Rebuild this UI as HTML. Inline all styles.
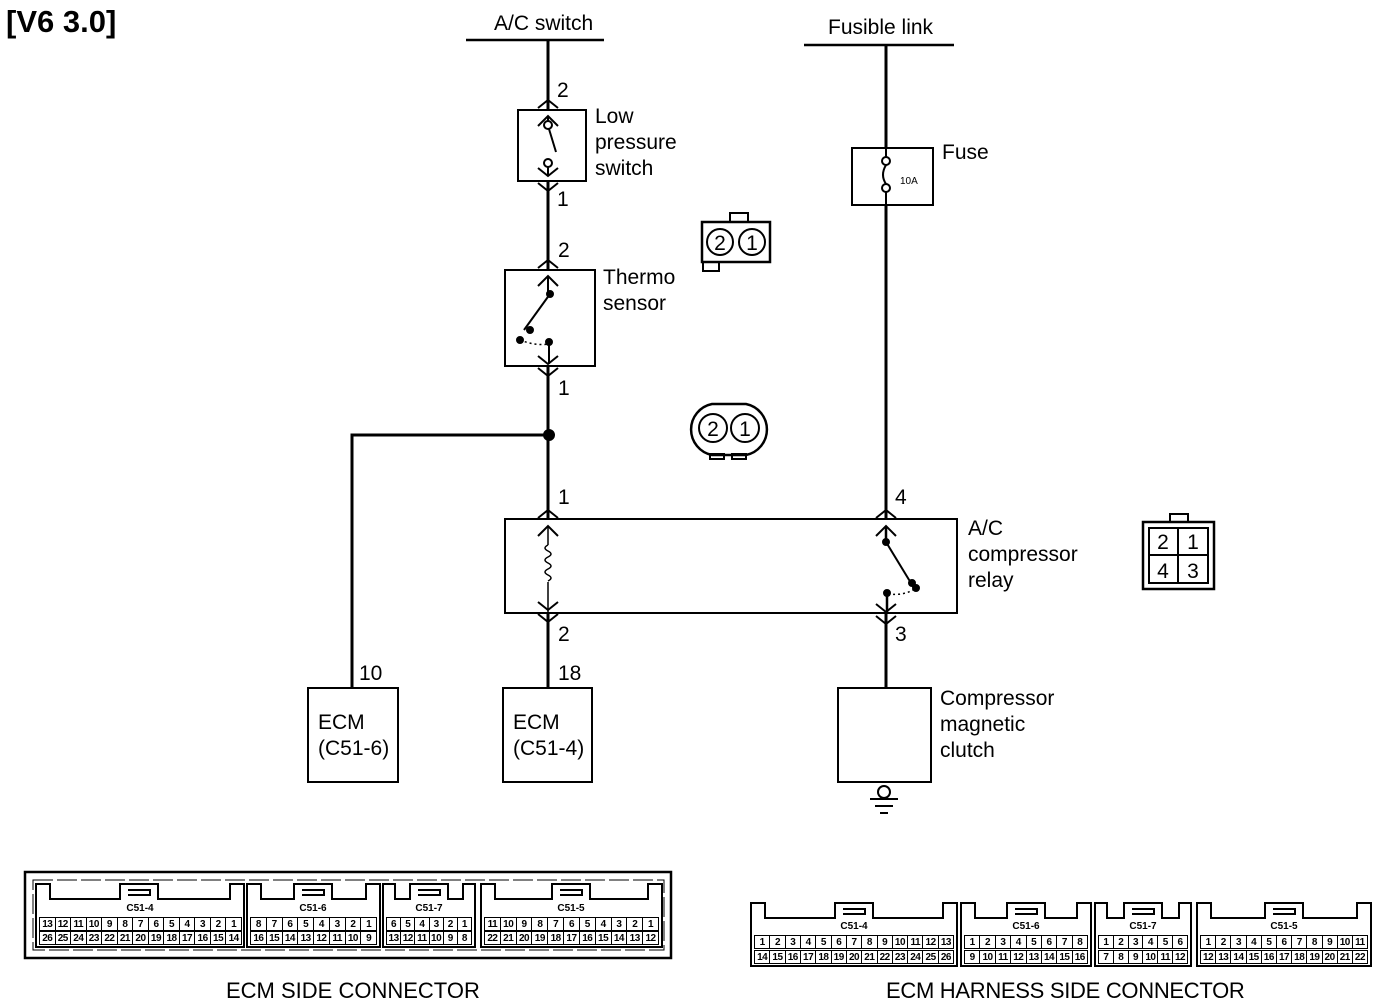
<!DOCTYPE html>
<html><head><meta charset="utf-8"><style>
body{margin:0;background:#fff;width:1376px;height:1006px;overflow:hidden;position:relative;font-family:"Liberation Sans",Arial,sans-serif}
svg{position:absolute;left:0;top:0}
.row{position:absolute;display:flex;height:14px;font:bold 10px "Liberation Sans",sans-serif;letter-spacing:-0.5px}
.row span{flex:1;border:1px solid #000;border-right:none;text-align:center;line-height:13px;box-sizing:border-box}
.row span:last-child{border-right:1px solid #000}
.t{position:absolute;font-size:21px;line-height:26px;color:#000}
</style></head><body>
<svg width="1376" height="1006" viewBox="0 0 1376 1006" fill="none" stroke="#000" stroke-width="2">
<text x="6" y="32" font-size="31" font-weight="bold" fill="#000" stroke="none" font-family="Liberation Sans">[V6 3.0]</text>
<line x1="466" y1="40" x2="604" y2="40" stroke-width="2.5"/>
<line x1="548" y1="40" x2="548" y2="110" stroke-width="3"/>
<rect x="518" y="110" width="68" height="71"/>
<polyline points="538,108 548,100 558,108"/><polyline points="538,126 548,116 558,126"/>
<line x1="548" y1="116" x2="548" y2="122"/>
<circle cx="548" cy="125" r="4"/><line x1="549" y1="129" x2="556" y2="152"/>
<circle cx="548" cy="163" r="4"/><line x1="548" y1="167" x2="548" y2="176"/>
<polyline points="538,168 548,176 558,168"/><polyline points="538,183 548,191 558,183"/>
<line x1="548" y1="181" x2="548" y2="270" stroke-width="3"/>
<rect x="505" y="270" width="90" height="96"/>
<polyline points="538,268 548,260 558,268"/><polyline points="538,286 548,276 558,286"/>
<line x1="548" y1="276" x2="548" y2="294"/>
<circle cx="550" cy="294" r="3" fill="#000"/><line x1="550" y1="294" x2="524" y2="330"/>
<circle cx="530" cy="330" r="3" fill="#000"/><circle cx="520" cy="340" r="3" fill="#000"/>
<path d="M520 340 Q535 346 549 344" stroke-dasharray="2 3" stroke-width="1.5"/>
<circle cx="549" cy="342" r="3" fill="#000"/><line x1="549" y1="342" x2="549" y2="364"/>
<polyline points="538,356 548,364 558,356"/><polyline points="538,368 548,376 558,368"/>
<line x1="548" y1="366" x2="548" y2="519" stroke-width="3"/>
<circle cx="549" cy="435" r="5" fill="#000"/>
<polyline points="548,435 352,435 352,688" stroke-width="3"/>
<rect x="308" y="688" width="90" height="94"/>
<rect x="505" y="519" width="452" height="94"/>
<polyline points="538,518 548,510 558,518"/><polyline points="538,536 548,526 558,536"/>
<line x1="548" y1="526" x2="548" y2="545" stroke-width="1.5"/>
<path d="M548 545 q-6 3 0 6 q6 3 0 6 q-6 3 0 6 q6 3 0 6 q-6 3 0 6 q6 3 0 6" stroke-width="1.5"/>
<line x1="548" y1="582" x2="548" y2="612" stroke-width="1.5"/>
<polyline points="538,602 548,610 558,602"/><polyline points="538,614 548,622 558,614"/>
<line x1="548" y1="613" x2="548" y2="688" stroke-width="3"/>
<rect x="503" y="688" width="89" height="94"/>
<line x1="804" y1="45" x2="954" y2="45" stroke-width="2.5"/>
<line x1="886" y1="45" x2="886" y2="148" stroke-width="3"/>
<rect x="852" y="148" width="81" height="57"/>
<line x1="886" y1="148" x2="886" y2="157"/><circle cx="886" cy="161" r="4"/>
<path d="M886 165 Q880 175 886 184"/><circle cx="886" cy="188" r="4"/>
<line x1="886" y1="192" x2="886" y2="205"/>
<line x1="886" y1="205" x2="886" y2="519" stroke-width="3"/>
<polyline points="876,518 886,510 896,518"/><polyline points="876,536 886,526 896,536"/>
<line x1="886" y1="526" x2="886" y2="542" stroke-width="2.5"/>
<circle cx="886" cy="542" r="3" fill="#000"/><line x1="886" y1="542" x2="914" y2="588"/>
<circle cx="912" cy="583" r="3" fill="#000"/><circle cx="916" cy="588" r="3" fill="#000"/>
<path d="M888 594 Q905 596 916 588" stroke-dasharray="2 3" stroke-width="1.5"/>
<circle cx="887" cy="593" r="3" fill="#000"/><line x1="887" y1="593" x2="887" y2="612" stroke-width="2.5"/>
<polyline points="876,604 886,612 896,604"/><polyline points="876,616 886,624 896,616"/>
<line x1="886" y1="613" x2="886" y2="688" stroke-width="3"/>
<rect x="838" y="688" width="93" height="94"/>
<circle cx="884" cy="792" r="6"/>
<line x1="870" y1="799" x2="898" y2="799"/><line x1="875" y1="806" x2="893" y2="806"/><line x1="880" y1="813" x2="888" y2="813"/>
<rect x="702" y="222" width="68" height="40" stroke-width="2.5"/>
<rect x="730" y="213" width="18" height="9"/><rect x="703" y="262" width="16" height="9"/>
<circle cx="720" cy="242" r="13"/><circle cx="752" cy="242" r="13"/>
<path d="M712 404 H746 A26 26 0 0 1 746 455 H712 A26 26 0 0 1 712 404 Z" stroke-width="2.5"/>
<rect x="710" y="454" width="14" height="5"/><rect x="732" y="454" width="14" height="5"/>
<circle cx="713" cy="428" r="14"/><circle cx="745" cy="428" r="14"/>
<rect x="1143" y="522" width="71" height="67" stroke-width="2.5"/>
<rect x="1170" y="514" width="18" height="8"/>
<rect x="1149" y="528" width="59" height="55"/>
<line x1="1178" y1="528" x2="1178" y2="583"/><line x1="1149" y1="555" x2="1208" y2="555"/>
<g fill="#000" stroke="none" font-family="Liberation Sans" font-size="21">
<text x="720" y="250" text-anchor="middle">2</text><text x="752" y="250" text-anchor="middle">1</text>
<text x="713" y="436" text-anchor="middle">2</text><text x="745" y="436" text-anchor="middle">1</text>
<text x="1163" y="549" text-anchor="middle">2</text><text x="1193" y="549" text-anchor="middle">1</text>
<text x="1163" y="578" text-anchor="middle">4</text><text x="1193" y="578" text-anchor="middle">3</text>
<text x="900" y="184" font-size="10">10A</text>
</g>
<rect x="25" y="872" width="646" height="86" stroke-width="2.5"/>
<rect x="33" y="880" width="631" height="70" stroke-width="1" stroke-dasharray="20 4"/>
<g stroke-width="2">
<path d="M36 947 V884 H50 V899 H120 V884 H158 V899 H230 V884 H244 V947 Z"/><path d="M128 890 H150 V895 H128"/>
<path d="M247 947 V884 H261 V899 H294 V884 H332 V899 H366 V884 H380 V947 Z"/><path d="M302 890 H324 V895 H302"/>
<path d="M383 947 V884 H395 V899 H410 V884 H448 V899 H463 V884 H475 V947 Z"/><path d="M418 890 H440 V895 H418"/>
<path d="M481 947 V884 H495 V899 H552 V884 H590 V899 H648 V884 H662 V947 Z"/><path d="M560 890 H582 V895 H560"/>
<path d="M751 966 V903 H765 V918 H835 V903 H873 V918 H943 V903 H957 V966 Z"/><path d="M843 909 H865 V914 H843"/>
<path d="M961 966 V903 H975 V918 H1007 V903 H1045 V918 H1077 V903 H1091 V966 Z"/><path d="M1015 909 H1037 V914 H1015"/>
<path d="M1095 966 V903 H1107 V918 H1124 V903 H1162 V918 H1179 V903 H1191 V966 Z"/><path d="M1132 909 H1154 V914 H1132"/>
<path d="M1197 966 V903 H1211 V918 H1265 V903 H1303 V918 H1357 V903 H1371 V966 Z"/><path d="M1273 909 H1295 V914 H1273"/>
</g>
<g fill="#000" stroke="none" font-family="Liberation Sans" font-size="10" font-weight="bold" text-anchor="middle">
<text x="140" y="911">C51-4</text><text x="313" y="911">C51-6</text><text x="429" y="911">C51-7</text><text x="571" y="911">C51-5</text>
<text x="854" y="929">C51-4</text><text x="1026" y="929">C51-6</text><text x="1143" y="929">C51-7</text><text x="1284" y="929">C51-5</text>
</g>
</svg>
<div class="t" style="left:494px;top:11px">A/C switch</div>
<div class="t" style="left:828px;top:15px">Fusible link</div>
<div class="t" style="left:557px;top:78px">2</div>
<div class="t" style="left:595px;top:104px">Low<br>pressure<br>switch</div>
<div class="t" style="left:557px;top:187px">1</div>
<div class="t" style="left:558px;top:238px">2</div>
<div class="t" style="left:603px;top:265px">Thermo<br>sensor</div>
<div class="t" style="left:558px;top:376px">1</div>
<div class="t" style="left:942px;top:140px">Fuse</div>
<div class="t" style="left:558px;top:485px">1</div>
<div class="t" style="left:895px;top:485px">4</div>
<div class="t" style="left:968px;top:516px">A/C<br>compressor<br>relay</div>
<div class="t" style="left:558px;top:622px">2</div>
<div class="t" style="left:895px;top:622px">3</div>
<div class="t" style="left:359px;top:661px">10</div>
<div class="t" style="left:558px;top:661px">18</div>
<div class="t" style="left:318px;top:710px">ECM<br>(C51-6)</div>
<div class="t" style="left:513px;top:710px">ECM<br>(C51-4)</div>
<div class="t" style="left:940px;top:686px">Compressor<br>magnetic<br>clutch</div>
<div class="t" style="left:226px;top:978px;font-size:22px">ECM SIDE CONNECTOR</div>
<div class="t" style="left:886px;top:978px;font-size:22px;letter-spacing:-0.3px">ECM HARNESS SIDE CONNECTOR</div>

<div class="row" style="left:39px;top:917px;width:203px"><span>13</span><span>12</span><span>11</span><span>10</span><span>9</span><span>8</span><span>7</span><span>6</span><span>5</span><span>4</span><span>3</span><span>2</span><span>1</span></div>
<div class="row" style="left:39px;top:931px;width:203px"><span>26</span><span>25</span><span>24</span><span>23</span><span>22</span><span>21</span><span>20</span><span>19</span><span>18</span><span>17</span><span>16</span><span>15</span><span>14</span></div>
<div class="row" style="left:250px;top:917px;width:127px"><span>8</span><span>7</span><span>6</span><span>5</span><span>4</span><span>3</span><span>2</span><span>1</span></div>
<div class="row" style="left:250px;top:931px;width:127px"><span>16</span><span>15</span><span>14</span><span>13</span><span>12</span><span>11</span><span>10</span><span>9</span></div>
<div class="row" style="left:386px;top:917px;width:86px"><span>6</span><span>5</span><span>4</span><span>3</span><span>2</span><span>1</span></div>
<div class="row" style="left:386px;top:931px;width:86px"><span>13</span><span>12</span><span>11</span><span>10</span><span>9</span><span>8</span></div>
<div class="row" style="left:484px;top:917px;width:175px"><span>11</span><span>10</span><span>9</span><span>8</span><span>7</span><span>6</span><span>5</span><span>4</span><span>3</span><span>2</span><span>1</span></div>
<div class="row" style="left:484px;top:931px;width:175px"><span>22</span><span>21</span><span>20</span><span>19</span><span>18</span><span>17</span><span>16</span><span>15</span><span>14</span><span>13</span><span>12</span></div>

<div class="row" style="left:754px;top:935px;width:200px"><span>1</span><span>2</span><span>3</span><span>4</span><span>5</span><span>6</span><span>7</span><span>8</span><span>9</span><span>10</span><span>11</span><span>12</span><span>13</span></div>
<div class="row" style="left:754px;top:950px;width:200px"><span>14</span><span>15</span><span>16</span><span>17</span><span>18</span><span>19</span><span>20</span><span>21</span><span>22</span><span>23</span><span>24</span><span>25</span><span>26</span></div>
<div class="row" style="left:964px;top:935px;width:124px"><span>1</span><span>2</span><span>3</span><span>4</span><span>5</span><span>6</span><span>7</span><span>8</span></div>
<div class="row" style="left:964px;top:950px;width:124px"><span>9</span><span>10</span><span>11</span><span>12</span><span>13</span><span>14</span><span>15</span><span>16</span></div>
<div class="row" style="left:1098px;top:935px;width:90px"><span>1</span><span>2</span><span>3</span><span>4</span><span>5</span><span>6</span></div>
<div class="row" style="left:1098px;top:950px;width:90px"><span>7</span><span>8</span><span>9</span><span>10</span><span>11</span><span>12</span></div>
<div class="row" style="left:1200px;top:935px;width:168px"><span>1</span><span>2</span><span>3</span><span>4</span><span>5</span><span>6</span><span>7</span><span>8</span><span>9</span><span>10</span><span>11</span></div>
<div class="row" style="left:1200px;top:950px;width:168px"><span>12</span><span>13</span><span>14</span><span>15</span><span>16</span><span>17</span><span>18</span><span>19</span><span>20</span><span>21</span><span>22</span></div>
</body></html>
